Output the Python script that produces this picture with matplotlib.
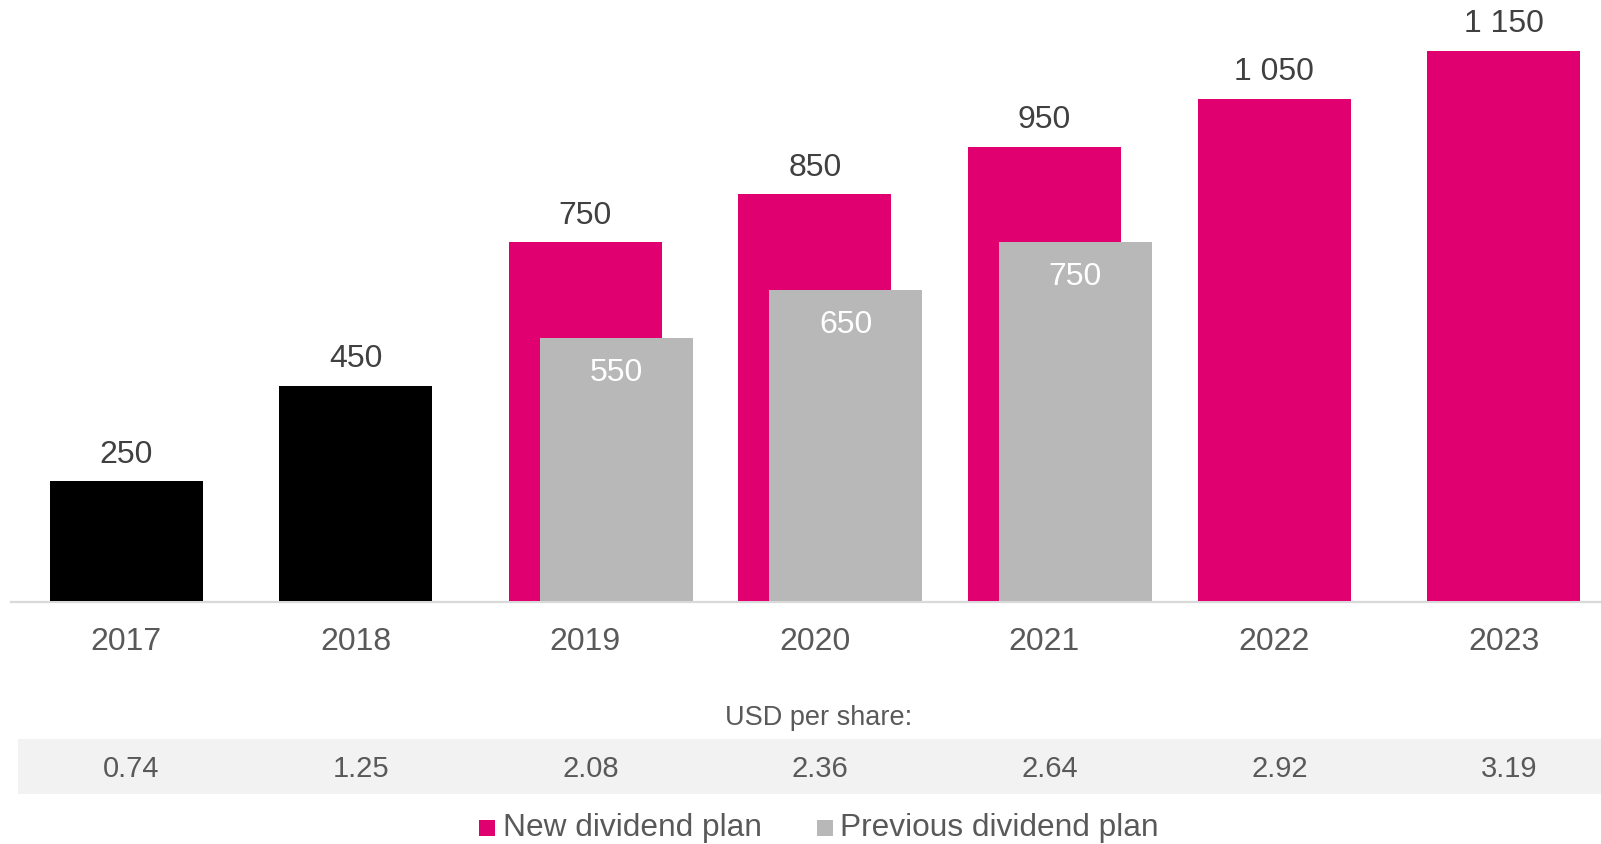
import matplotlib
matplotlib.use("Agg")
import matplotlib.pyplot as plt
from matplotlib.patches import Rectangle

plt.rcParams['font.family'] = ['Liberation Sans', 'DejaVu Sans']

# ---- data ----
years = ['2017', '2018', '2019', '2020', '2021', '2022', '2023']
actual = [250, 450, None, None, None, None, None]
new_plan = [None, None, 750, 850, 950, 1050, 1150]
previous_plan = [None, None, 550, 650, 750, None, None]
usd_per_share = ['0.74', '1.25', '2.08', '2.36', '2.64', '2.92', '3.19']
legend_labels = ['New dividend plan', 'Previous dividend plan']

# ---- style ----
MAGENTA = '#E0006F'
GRAY = '#B8B8B8'
BLACK = '#000000'
LABEL_DARK = '#404040'
TEXT_GRAY = '#595959'

W, H = 1601, 844
fig = plt.figure(figsize=(W / 100, H / 100), dpi=100)
ax = fig.add_axes([0, 0, 1, 1])
ax.set_axis_off()

# pixel geometry
x0_px, step_px = 126.0, 229.6
base_px = 601.0  # baseline from top
ppu = 550.0 / 1150.0  # pixels per unit
ax.set_xlim(-x0_px / step_px, (W - x0_px) / step_px)
ax.set_ylim(-(H - base_px) / ppu, base_px / ppu)

bw = 153.0 / step_px
off = 31.0 / step_px


def fmt(v):
    return f"{v:,}".replace(",", " ")


fs_lab = 23
for i, y in enumerate(years):
    if actual[i] is not None:
        ax.bar(i, actual[i], width=bw, color=BLACK, zorder=2)
        ax.annotate(fmt(actual[i]), (i, actual[i]), xytext=(0, 18.5 * 0.72),
                    textcoords='offset points', ha='center', va='baseline',
                    fontsize=fs_lab, color=LABEL_DARK)
    if new_plan[i] is not None:
        ax.bar(i, new_plan[i], width=bw, color=MAGENTA, zorder=2)
        ax.annotate(fmt(new_plan[i]), (i, new_plan[i]), xytext=(0, 18.5 * 0.72),
                    textcoords='offset points', ha='center', va='baseline',
                    fontsize=fs_lab, color=LABEL_DARK)
    if previous_plan[i] is not None:
        ax.bar(i + off, previous_plan[i], width=bw, color=GRAY, zorder=3)
        ax.annotate(fmt(previous_plan[i]), (i + off, previous_plan[i]),
                    xytext=(0, -43 * 0.72), textcoords='offset points',
                    ha='center', va='baseline', fontsize=fs_lab, color='white',
                    zorder=4)

# baseline axis line
ax.axhline(-2.0, xmin=11 / W, xmax=1.0, color='#D9D9D9', lw=1.6, zorder=1)


def fy(top_px):
    return 1 - top_px / H


# year labels
for i, y in enumerate(years):
    ax.text(i, fy(650), y, transform=ax.get_xaxis_transform(), ha='center',
            va='baseline', fontsize=23, color=TEXT_GRAY)

# USD per share header
fig.text(819 / W, fy(725), 'USD per share:', ha='center', va='baseline',
         fontsize=19.5, color=TEXT_GRAY)

# table band (behind the axes content)
fig.patches.append(Rectangle((18 / W, fy(794)), (W - 18) / W, 55 / H,
                             transform=fig.transFigure, facecolor='#F2F2F2',
                             edgecolor='none', zorder=-1))
tab_off = 5.5 / step_px
for i, v in enumerate(usd_per_share):
    ax.text(i + tab_off, fy(777), v, transform=ax.get_xaxis_transform(),
            ha='center', va='baseline', fontsize=21, color=TEXT_GRAY, zorder=5)

# legend
leg_items = [(479, MAGENTA, 503), (817, GRAY, 840)]
for (sq_x, col, tx), lab in zip(leg_items, legend_labels):
    fig.patches.append(Rectangle((sq_x / W, fy(836)), 16 / W, 16 / H,
                                 transform=fig.transFigure, facecolor=col,
                                 edgecolor='none', zorder=1))
    fig.text(tx / W, fy(836), lab, ha='left', va='baseline', fontsize=22.8,
             color=TEXT_GRAY)

fig.savefig('out.png', dpi=100)
